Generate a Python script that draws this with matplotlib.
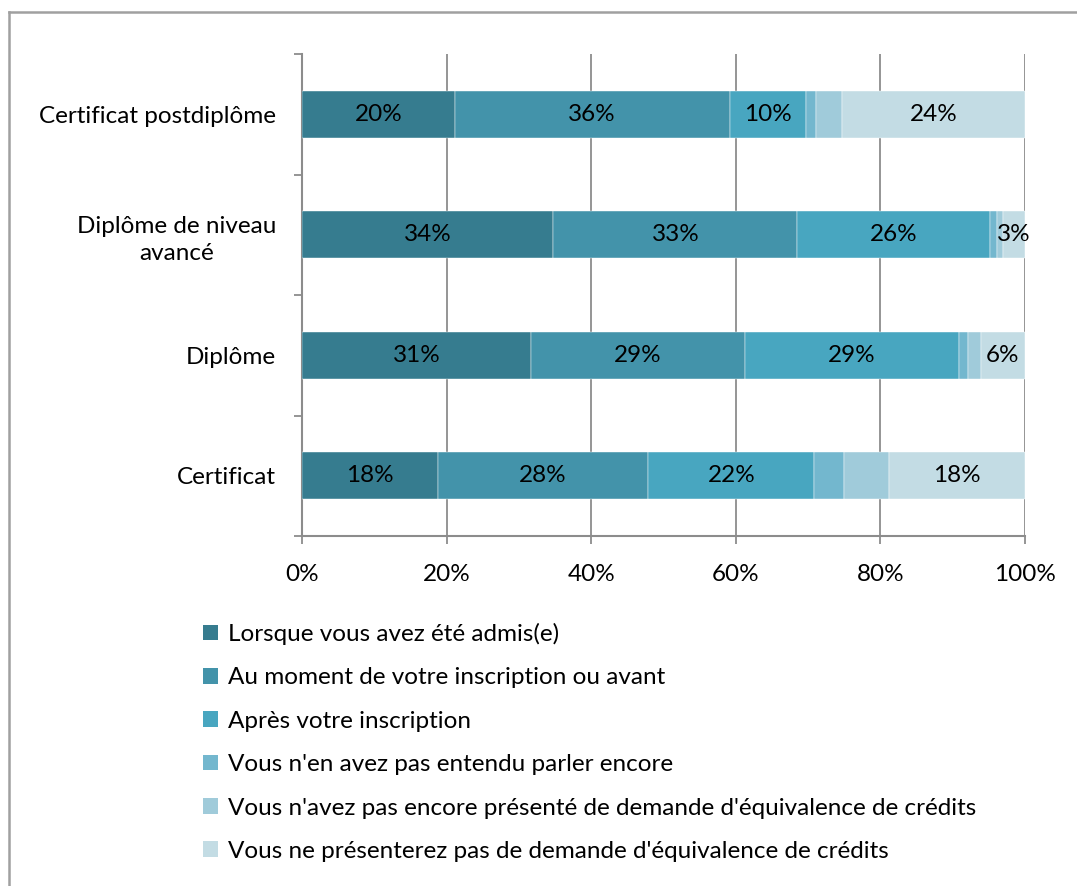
import numpy as np
import matplotlib
matplotlib.use('Agg')
from matplotlib import pyplot as plt
from matplotlib.patches import Patch
from matplotlib.lines import Line2D

plt.rcParams['font.family'] = ['Lato', 'DejaVu Sans']

# categories bottom to top
categories = ['Certificat', 'Diplôme', 'Diplôme de niveau\navancé', 'Certificat postdiplôme']

series_names = [
    "Lorsque vous avez été admis(e)",
    "Au moment de votre inscription ou avant",
    "Après votre inscription",
    "Vous n'en avez pas entendu parler encore",
    "Vous n'avez pas encore présenté de demande d'équivalence de crédits",
    "Vous ne présenterez pas de demande d'équivalence de crédits",
]

# percentages per series, same order as categories
admis = [18, 31, 34, 20]
inscription_avant = [28, 29, 33, 36]
apres_inscription = [22, 29, 26, 10]
pas_entendu = [4, 1.3, 1.0, 1.3]
pas_encore = [6, 1.7, 0.8, 3.4]
ne_presenterez = [18, 6, 3, 24]

# which segments carry a data label
labeled = [True, True, True, False, False, True]

colors = ['#367C8F', '#4393AA', '#48A6C0', '#73B7CE', '#A0CBDA', '#C3DCE4']

values = np.array([admis, inscription_avant, apres_inscription,
                   pas_entendu, pas_encore, ne_presenterez], dtype=float)
# 100% stacked: every bar is scaled to its own total
shares = values / values.sum(axis=0) * 100

FS = 17.5
W, H = 1077, 886
fig = plt.figure(figsize=(W / 100, H / 100), dpi=100)

# outer chart border (left and top edges only are visible)
fig.add_artist(Line2D([9 / W, 9 / W], [0, 1 - 12 / H], color='#A0A0A0', lw=1.8, transform=fig.transFigure))
fig.add_artist(Line2D([9 / W, 1], [1 - 12 / H, 1 - 12 / H], color='#A0A0A0', lw=1.8, transform=fig.transFigure))

ax = fig.add_axes([302 / W, (H - 536) / H, (1025 - 302) / W, (536 - 54) / H])

y = np.arange(len(categories))
left = np.zeros(len(categories))
for i in range(len(series_names)):
    ax.barh(y, shares[i], left=left, height=0.39, color=colors[i],
            edgecolor='white', linewidth=0.3, label=series_names[i], zorder=3)
    if labeled[i]:
        for j in range(len(categories)):
            ax.text(left[j] + shares[i][j] / 2, y[j], f'{values[i][j]:.0f}%',
                    ha='center', va='center', fontsize=FS, color='black', zorder=4)
    left += shares[i]

ax.set_xlim(0, 100)
ax.set_ylim(-0.5, len(categories) - 0.5)

ax.set_xticks(np.arange(0, 101, 20))
ax.set_xticklabels([f'{v}%' for v in range(0, 101, 20)], fontsize=FS)
ax.xaxis.grid(True, color='#8C8C8C', lw=1.3, zorder=0)

ax.set_yticks(np.arange(-0.5, len(categories), 1.0))
ax.set_yticklabels([])
ax.set_yticks(y, minor=True)
ax.set_yticklabels(categories, minor=True, fontsize=FS, ha='right',
                   multialignment='center', linespacing=1.35)
ax.tick_params(axis='y', which='minor', length=0, pad=18.5)
ax.tick_params(axis='both', which='major', length=5.5, width=1.3, color='#8C8C8C')
ax.tick_params(axis='x', pad=15)

for s in ['top', 'right']:
    ax.spines[s].set_visible(False)
for s in ['left', 'bottom']:
    ax.spines[s].set_color('#8C8C8C')
    ax.spines[s].set_linewidth(1.5)

handles = [Patch(facecolor=c) for c in colors]
fig.legend(handles, series_names, loc='upper left', bbox_to_anchor=(203 / W, 1 - 623 / H),
           frameon=False, fontsize=FS, handlelength=0.62, handleheight=0.62,
           handletextpad=0.42, labelspacing=0.92, borderpad=0, borderaxespad=0)

fig.savefig('out.png', dpi=100)
